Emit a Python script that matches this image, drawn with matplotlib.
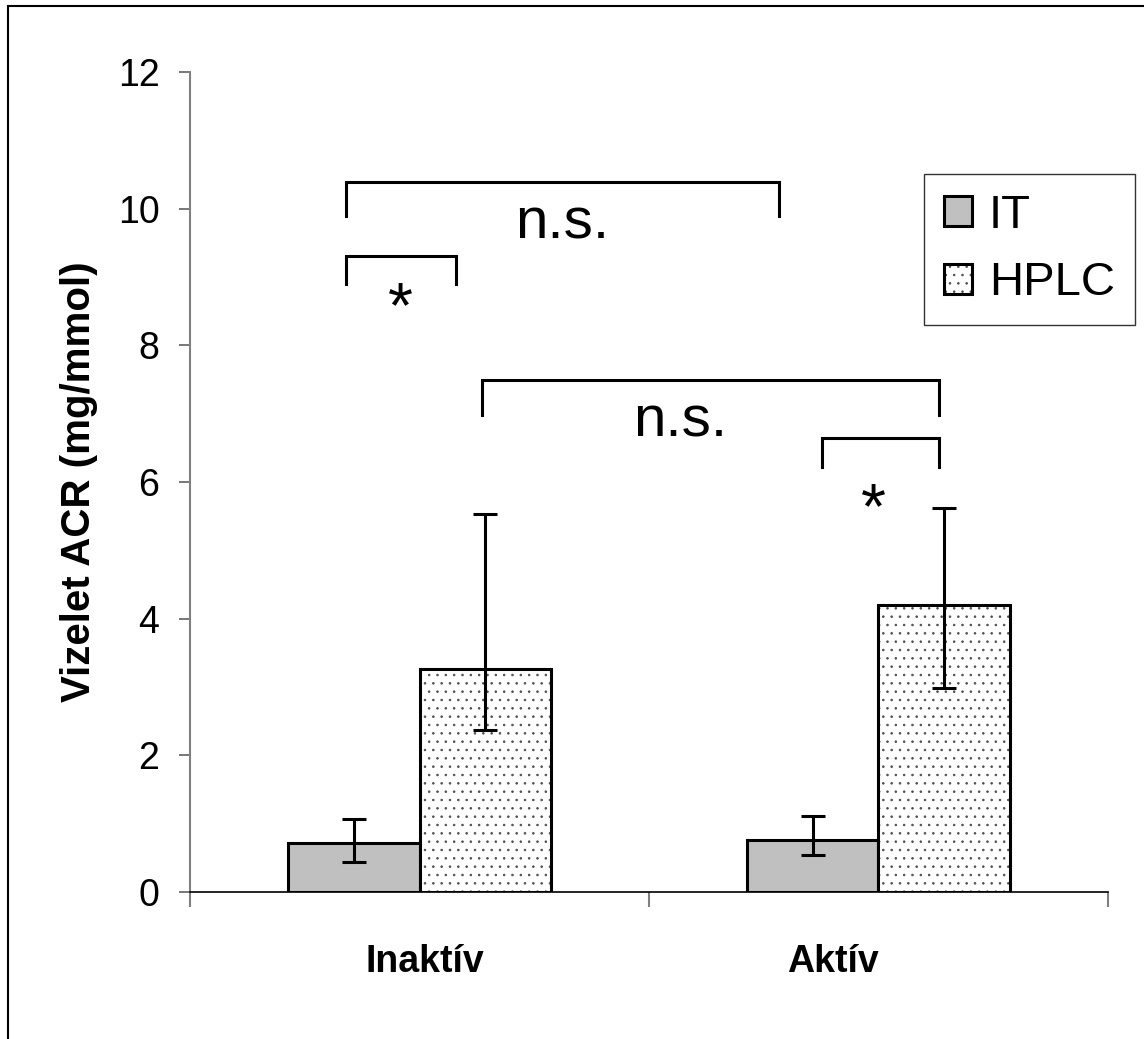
import numpy as np
import matplotlib
matplotlib.use('Agg')
from matplotlib import pyplot as plt
from matplotlib.patches import Rectangle

matplotlib.rcParams['font.family'] = 'Liberation Sans'
matplotlib.rcParams['hatch.linewidth'] = 0.6

groups = ['Inaktív', 'Aktív']
series = ['IT', 'HPLC']
it_mean = np.array([0.72, 0.76])
it_low = np.array([0.44, 0.54])
it_high = np.array([1.07, 1.11])
hplc_mean = np.array([3.26, 4.20])
hplc_low = np.array([2.37, 2.99])
hplc_high = np.array([5.53, 5.62])

# significance brackets: x left, x right, top, drop-to, label, label x, label baseline
brackets = [
    (-0.160, 0.783, 10.39, 9.89, 'n.s.', 0.31, 9.57),
    (-0.160, 0.080, 9.31, 8.90, '*', -0.042, 8.27),
    (0.136, 1.132, 7.49, 6.98, 'n.s.', 0.567, 6.67),
    (0.877, 1.132, 6.64, 6.22, '*', 0.988, 5.33),
]

fig = plt.figure(figsize=(11.44, 10.39), dpi=100)
ax = fig.add_axes([0.1661, 0.1415, 0.8024, 0.7892])

x = np.arange(len(groups))
w = 0.287

ax.bar(x - w / 2, it_mean, w, color='#c0c0c0', edgecolor='black', linewidth=2.2,
       label=series[0], zorder=2)
ax.bar(x + w / 2, hplc_mean, w, color='white', edgecolor='black', linewidth=2.2,
       hatch='..', label=series[1], zorder=2)
# hatch colour for the dotted bars
for p in ax.patches[len(groups):]:
    p._hatch_color = (0.3, 0.3, 0.3, 1.0)

ax.errorbar(x - w / 2, it_mean, yerr=[it_mean - it_low, it_high - it_mean],
            fmt='none', ecolor='black', elinewidth=2.2, capsize=8.5, capthick=2.2, zorder=3)
ax.errorbar(x + w / 2, hplc_mean, yerr=[hplc_mean - hplc_low, hplc_high - hplc_mean],
            fmt='none', ecolor='black', elinewidth=2.2, capsize=8.5, capthick=2.2, zorder=3)

for x0, x1, top, bot, lab, lx, ly in brackets:
    ax.plot([x0, x0, x1, x1], [bot, top, top, bot], color='black', lw=2.2,
            solid_joinstyle='miter', clip_on=False, zorder=3)
    if lab == '*':
        ax.text(lx, ly, lab, fontsize=46, ha='center', va='baseline')
    else:
        ax.text(lx, ly, lab, fontsize=42, ha='center', va='baseline')

ax.set_xlim(-0.5, 1.5)
ax.set_ylim(0, 12)
ax.set_yticks(np.arange(0, 13, 2))
ax.set_yticklabels([str(v) for v in range(0, 13, 2)], fontsize=27)
ax.set_xticks([-0.5, 0.5, 1.5])
ax.set_xticklabels([])
ax.tick_params(axis='y', direction='out', length=8, width=1.2, color='#606060', pad=14)
ax.tick_params(axis='x', direction='out', length=11, width=1.5, color='#808080')

for s in ['top', 'right']:
    ax.spines[s].set_visible(False)
ax.spines['left'].set_color('#808080')
ax.spines['left'].set_linewidth(1.5)
ax.spines['bottom'].set_color('black')
ax.spines['bottom'].set_linewidth(1.2)

label_x = [0.012, 0.901]
for lx, g in zip(label_x, groups):
    ax.text(lx, -0.0975, g, transform=ax.get_xaxis_transform(), fontsize=27,
            fontweight='bold', ha='center', va='baseline')

ax.set_ylabel('Vizelet ACR (mg/mmol)', fontsize=29, fontweight='bold', labelpad=14)

leg = ax.legend(loc='upper right', bbox_to_anchor=(1.029, 0.8756), fontsize=34,
                frameon=True, fancybox=False, edgecolor='black', handlelength=0.6,
                handleheight=0.6, handletextpad=0.35, labelspacing=0.5,
                borderpad=0.42, borderaxespad=0)
leg.get_frame().set_linewidth(1.0)

# frame around the whole figure
fig.patches.append(Rectangle((8 / 1144, -0.05), 1.2, 1.05 - 6 / 1039,
                             transform=fig.transFigure, fill=False,
                             edgecolor='black', linewidth=1.5))

plt.savefig('out.png', dpi=100)
